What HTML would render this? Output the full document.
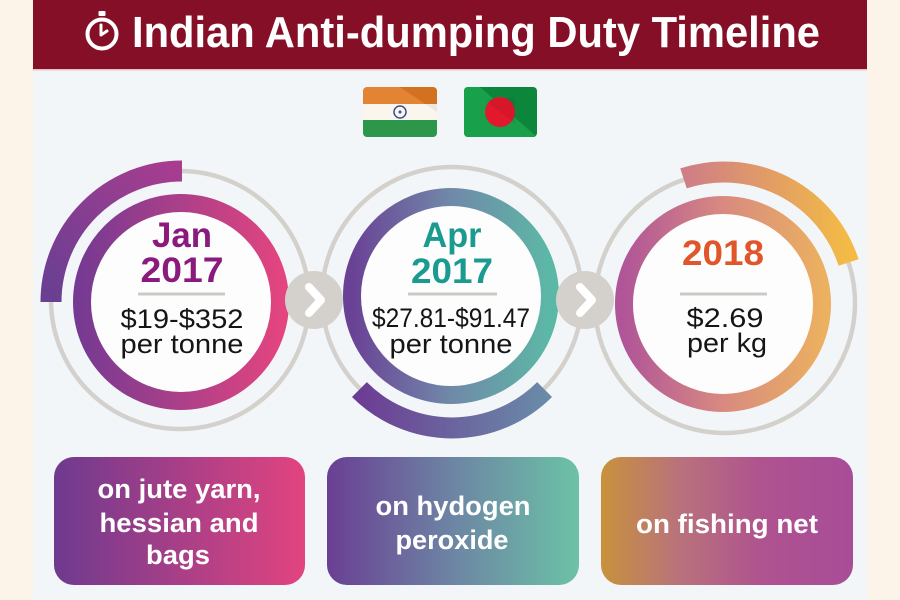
<!DOCTYPE html>
<html>
<head>
<meta charset="utf-8">
<style>
html,body{margin:0;padding:0;background:#fdf4e9;}
svg{display:block;}
text{font-family:"Liberation Sans",Arial,sans-serif;}
</style>
</head>
<body>
<svg width="900" height="600" viewBox="0 0 900 600" xmlns="http://www.w3.org/2000/svg">
<defs>
  <linearGradient id="ring1" x1="0" y1="0" x2="1" y2="0">
    <stop offset="0" stop-color="#773a92"/>
    <stop offset="1" stop-color="#e2457f"/>
  </linearGradient>
  <linearGradient id="ring2" x1="0" y1="0" x2="1" y2="0">
    <stop offset="0" stop-color="#6a4295"/>
    <stop offset="0.5" stop-color="#7089a9"/>
    <stop offset="1" stop-color="#5cb8a6"/>
  </linearGradient>
  <linearGradient id="ring3" x1="0" y1="0" x2="1" y2="0">
    <stop offset="0" stop-color="#b05598"/>
    <stop offset="0.5" stop-color="#d88a80"/>
    <stop offset="1" stop-color="#ebb060"/>
  </linearGradient>
  <linearGradient id="arc1" x1="0" y1="1" x2="1" y2="0">
    <stop offset="0" stop-color="#683f92"/>
    <stop offset="1" stop-color="#a83d8f"/>
  </linearGradient>
  <linearGradient id="arc2" x1="0" y1="0" x2="1" y2="0">
    <stop offset="0" stop-color="#6c3d94"/>
    <stop offset="1" stop-color="#6a8aa8"/>
  </linearGradient>
  <linearGradient id="arc3" x1="0" y1="0" x2="1" y2="0">
    <stop offset="0" stop-color="#cf7d87"/>
    <stop offset="1" stop-color="#f3bb45"/>
  </linearGradient>
  <linearGradient id="box1" x1="0" y1="0" x2="1" y2="0">
    <stop offset="0" stop-color="#6e3a8f"/>
    <stop offset="1" stop-color="#e2447f"/>
  </linearGradient>
  <linearGradient id="box2" x1="0" y1="0" x2="1" y2="0">
    <stop offset="0" stop-color="#6a3f93"/>
    <stop offset="0.5" stop-color="#6d85a4"/>
    <stop offset="1" stop-color="#6cc2a6"/>
  </linearGradient>
  <linearGradient id="box3" x1="0" y1="0" x2="1" y2="0">
    <stop offset="0" stop-color="#c8923c"/>
    <stop offset="0.3" stop-color="#b9737a"/>
    <stop offset="0.65" stop-color="#ae5290"/>
    <stop offset="1" stop-color="#a84d98"/>
  </linearGradient>
</defs>

<!-- backgrounds -->
<rect x="0" y="0" width="900" height="600" fill="#fdf4e9"/>
<rect x="33" y="0" width="834" height="600" fill="#f3f6f9"/>
<rect x="33" y="0" width="834" height="69" fill="#850f26"/>
<rect x="33" y="69" width="834" height="1.5" fill="#e6c3c6"/>

<!-- stopwatch icon -->
<circle cx="102" cy="34" r="14.5" fill="none" stroke="#ffffff" stroke-width="4"/>
<rect x="98.5" y="11" width="7" height="5" rx="1" fill="#ffffff"/>
<polyline points="101,25 101,35 107,31" fill="none" stroke="#ffffff" stroke-width="3" stroke-linecap="round" stroke-linejoin="round"/>

<!-- title -->
<text x="476" y="47" text-anchor="middle" font-size="44" font-weight="bold" fill="#ffffff" textLength="688" lengthAdjust="spacingAndGlyphs">Indian Anti-dumping Duty Timeline</text>

<!-- India flag -->
<g>
  <clipPath id="cInd"><rect x="363" y="87" width="74" height="50" rx="4"/></clipPath>
  <g clip-path="url(#cInd)">
    <rect x="363" y="87" width="74" height="17" fill="#e07a22"/>
    <rect x="363" y="104" width="74" height="16" fill="#fbf6ec"/>
    <rect x="363" y="120" width="74" height="17" fill="#1d8e3b"/>
    <polygon points="363,87 400,87 437,112 437,137 363,137" fill="#ffffff" opacity="0.08"/>
    <polygon points="400,87 437,87 437,112" fill="#000000" opacity="0.06"/>
    <circle cx="400" cy="112" r="6" fill="none" stroke="#3d4c99" stroke-width="1.5"/>
    <circle cx="400" cy="112" r="1.5" fill="#3d4c99"/>
  </g>
</g>

<!-- Bangladesh flag -->
<g>
  <clipPath id="cBd"><rect x="464" y="87" width="73" height="50" rx="4"/></clipPath>
  <g clip-path="url(#cBd)">
    <rect x="464" y="87" width="73" height="50" fill="#0b863b"/>
    <polygon points="464,87 480,87 537,137 464,137" fill="#18a04a"/>
    <circle cx="500" cy="112" r="15" fill="#e2192d"/>
    <polygon points="485,100 500,112 515,124 515,97" fill="#000000" opacity="0.05"/>
  </g>
</g>

<!-- gray thin rings -->
<circle cx="180" cy="300" r="129" fill="none" stroke="#d4d1cd" stroke-width="4.5"/>
<circle cx="452" cy="297" r="130" fill="none" stroke="#d4d1cd" stroke-width="4.5"/>
<circle cx="725" cy="303" r="130" fill="none" stroke="#d4d1cd" stroke-width="4.5"/>

<!-- outer arcs -->
<path d="M 51 302 A 131 131 0 0 1 182 171" fill="none" stroke="url(#arc1)" stroke-width="21"/>
<path d="M 359.4 389.6 A 131 131 0 0 0 544.6 389.6" fill="none" stroke="url(#arc2)" stroke-width="21"/>
<path d="M 683.5 178.4 A 131 131 0 0 1 848.6 262.5" fill="none" stroke="url(#arc3)" stroke-width="21"/>

<!-- gradient rings -->
<circle cx="181" cy="302" r="99" fill="#fdfdfd" stroke="url(#ring1)" stroke-width="18"/>
<circle cx="451" cy="296" r="99" fill="#fdfdfd" stroke="url(#ring2)" stroke-width="18"/>
<circle cx="723" cy="304" r="99" fill="#fdfdfd" stroke="url(#ring3)" stroke-width="18"/>

<!-- arrow buttons -->
<circle cx="314" cy="300" r="29" fill="#d4d1cd"/>
<polyline points="309,287 321,300 309,313" fill="none" stroke="#ffffff" stroke-width="8" stroke-linecap="round" stroke-linejoin="round"/>
<circle cx="585" cy="300" r="29" fill="#d4d1cd"/>
<polyline points="580,287 592,300 580,313" fill="none" stroke="#ffffff" stroke-width="8" stroke-linecap="round" stroke-linejoin="round"/>

<!-- circle 1 text -->
<text x="182" y="247" text-anchor="middle" font-size="35" font-weight="bold" fill="#8a1a7e" textLength="60" lengthAdjust="spacingAndGlyphs">Jan</text>
<text x="182" y="282" text-anchor="middle" font-size="35" font-weight="bold" fill="#8a1a7e" textLength="83" lengthAdjust="spacingAndGlyphs">2017</text>
<rect x="138" y="292.5" width="87" height="3" fill="#cdcac6"/>
<text x="182" y="328" text-anchor="middle" font-size="27" fill="#151515" textLength="123" lengthAdjust="spacingAndGlyphs">$19-$352</text>
<text x="182" y="353" text-anchor="middle" font-size="27" fill="#151515" textLength="123" lengthAdjust="spacingAndGlyphs">per tonne</text>

<!-- circle 2 text -->
<text x="452" y="247" text-anchor="middle" font-size="35" font-weight="bold" fill="#1b9b90" textLength="59" lengthAdjust="spacingAndGlyphs">Apr</text>
<text x="452" y="283" text-anchor="middle" font-size="35" font-weight="bold" fill="#1b9b90" textLength="82" lengthAdjust="spacingAndGlyphs">2017</text>
<rect x="408" y="292.5" width="89" height="3" fill="#cdcac6"/>
<text x="451" y="327" text-anchor="middle" font-size="27" fill="#151515" textLength="158" lengthAdjust="spacingAndGlyphs">$27.81-$91.47</text>
<text x="451" y="353" text-anchor="middle" font-size="27" fill="#151515" textLength="123" lengthAdjust="spacingAndGlyphs">per tonne</text>

<!-- circle 3 text -->
<text x="723" y="265" text-anchor="middle" font-size="35" font-weight="bold" fill="#e0552a" textLength="82" lengthAdjust="spacingAndGlyphs">2018</text>
<rect x="680" y="292.5" width="87" height="3" fill="#cdcac6"/>
<text x="725" y="327" text-anchor="middle" font-size="27" fill="#151515" textLength="77" lengthAdjust="spacingAndGlyphs">$2.69</text>
<text x="727" y="352" text-anchor="middle" font-size="27" fill="#151515" textLength="80" lengthAdjust="spacingAndGlyphs">per kg</text>

<!-- boxes -->
<rect x="54" y="457" width="251" height="128" rx="20" fill="url(#box1)"/>
<rect x="327" y="457" width="252" height="128" rx="20" fill="url(#box2)"/>
<rect x="601" y="457" width="252" height="128" rx="20" fill="url(#box3)"/>

<text x="179" y="498" text-anchor="middle" font-size="27" font-weight="bold" fill="#ffffff" textLength="163" lengthAdjust="spacingAndGlyphs">on jute yarn,</text>
<text x="179" y="532" text-anchor="middle" font-size="27" font-weight="bold" fill="#ffffff" textLength="159" lengthAdjust="spacingAndGlyphs">hessian and</text>
<text x="178" y="564" text-anchor="middle" font-size="27" font-weight="bold" fill="#ffffff" textLength="64" lengthAdjust="spacingAndGlyphs">bags</text>

<text x="453" y="515" text-anchor="middle" font-size="27" font-weight="bold" fill="#ffffff" textLength="155" lengthAdjust="spacingAndGlyphs">on hydogen</text>
<text x="452" y="549" text-anchor="middle" font-size="27" font-weight="bold" fill="#ffffff" textLength="113" lengthAdjust="spacingAndGlyphs">peroxide</text>

<text x="727" y="533" text-anchor="middle" font-size="27" font-weight="bold" fill="#ffffff" textLength="182" lengthAdjust="spacingAndGlyphs">on fishing net</text>
</svg>
</body>
</html>
